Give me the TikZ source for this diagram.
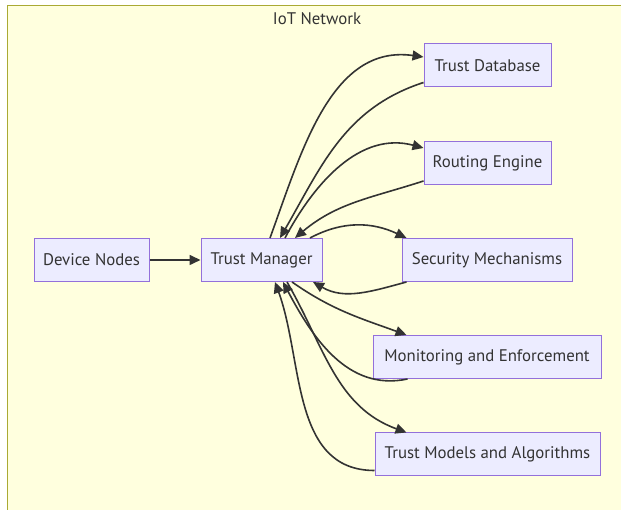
\documentclass[tikz,border=0pt]{standalone}
\usepackage{fontspec}
\setmainfont{PT Sans}
\usepackage{xcolor}
\usepackage{tikz}
\usetikzlibrary{arrows.meta, positioning}

\definecolor{clusterfill}{HTML}{FFFFDE}
\definecolor{clusterline}{HTML}{AAAA33}
\definecolor{boxfill}{HTML}{ECECFF}
\definecolor{boxline}{HTML}{9370DB}
\definecolor{ink}{HTML}{333333}

\begin{document}
\begin{tikzpicture}[
  x=1pt, y=1pt,
  box/.style={draw=boxline, fill=boxfill, line width=1pt, text=ink, font=\fontsize{16.8}{19}\selectfont,
    minimum height=43pt, inner xsep=8pt},
  link/.style={-{Triangle[length=11pt, width=10pt]}, draw=ink, line width=1.6pt}
]

\clip (0,0) rectangle (621,510);
\fill[clusterfill, draw=clusterline, line width=1pt] (7.5,504.5) rectangle (640,-20);
\node[text=ink, font=\fontsize{16.8}{19}\selectfont] (title) at (317,491) {IoT Network};

\node[box, minimum width=115pt] (dev) at (91.5,250) {Device Nodes};
\node[box, minimum width=121pt] (mgr) at (261.5,250) {Trust Manager};
\node[box, minimum width=127pt] (db) at (487.5,444.5) {Trust Database};
\node[box, minimum width=127pt] (route) at (487.5,347) {Routing Engine};
\node[box, minimum width=170pt] (sec) at (487,250) {Security Mechanisms};
\node[box, minimum width=228pt] (mon) at (487,153) {Monitoring and Enforcement};
\node[box, minimum width=225pt] (algo) at (487.5,55.5) {Trust Models and Algorithms};

\draw[link] (dev) -- (mgr);

\draw[link] ([xshift=8.5pt]mgr.north) to[out=70, in=172] ([yshift=8.5pt]db.west);
\draw[link] ([yshift=5pt]db.south west) to[out=198, in=60] ([xshift=18.5pt]mgr.north);
\draw[link] ([xshift=23.5pt]mgr.north) to[out=62, in=165] ([yshift=15pt]route.west);
\draw[link] ([yshift=4pt]route.south west) to[out=198, in=40] ([xshift=33.5pt]mgr.north);
\draw[link] ([xshift=48.5pt]mgr.north) to[out=28, in=155] ([xshift=5pt]sec.north west);
\draw[link] ([xshift=5pt]sec.south west) to[out=195, in=-30] ([xshift=51.5pt]mgr.south);
\draw[link] ([xshift=30.5pt]mgr.south) to[out=-35, in=160] ([xshift=34pt]mon.north west);
\draw[link] ([xshift=35pt]mon.south west) to[out=192, in=-62] ([xshift=21.5pt]mgr.south);
\draw[link] ([xshift=25.5pt]mgr.south) to[out=-60, in=160] ([xshift=32pt]algo.north west);
\draw[link] ([yshift=6pt]algo.south west) to[out=180, in=-70] ([xshift=13.5pt]mgr.south);

\end{tikzpicture}
\end{document}
